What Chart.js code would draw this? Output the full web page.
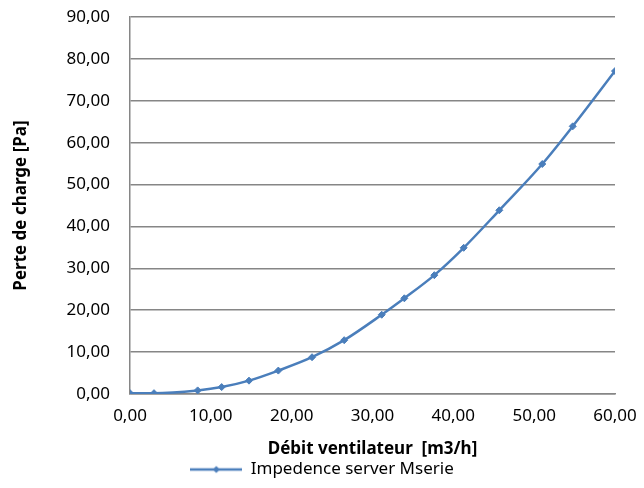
<!DOCTYPE html>
<html>
<head>
<meta charset="utf-8">
<script src="https://cdn.jsdelivr.net/npm/chart.js@4/dist/chart.umd.min.js"></script>
<style>
  html, body { margin: 0; padding: 0; background: #fff; }
  #wrap { width: 644px; height: 488px; }
</style>
</head>
<body>
<div id="wrap"><canvas id="chart"></canvas></div>
<script>
// debit ventilateur [m3/h] and perte de charge [Pa]
const debit = [0, 2.97, 8.37, 11.34, 14.72, 18.35, 22.52, 26.5, 31.14, 33.94, 37.65, 41.28, 45.69, 51.0, 54.77, 60.0];
const perte = [0.2, 0.2, 0.86, 1.65, 3.19, 5.59, 8.78, 12.85, 18.92, 22.85, 28.37, 34.9, 43.86, 54.9, 63.9, 77.1];
const seriesName = 'Impedence server Mserie';
const xTitle = 'Débit ventilateur  [m3/h]';
const yTitle = 'Perte de charge [Pa]';

const blue = '#4a7ebb';
const grey = '#868686';
const fontFamily = "'Noto Sans', 'Open Sans', sans-serif";

// legend marker: line with a diamond in the middle
function legendMarker() {
    const c = document.createElement('canvas');
    c.width = 52;
    c.height = 10;
    const ctx = c.getContext('2d');
    ctx.strokeStyle = blue;
    ctx.lineWidth = 2.5;
    ctx.beginPath();
    ctx.moveTo(0, 5);
    ctx.lineTo(52, 5);
    ctx.stroke();
    ctx.fillStyle = blue;
    ctx.beginPath();
    ctx.moveTo(26, 1.5);
    ctx.lineTo(29.5, 5);
    ctx.lineTo(26, 8.5);
    ctx.lineTo(22.5, 5);
    ctx.closePath();
    ctx.fill();
    return c;
}

const fmt = v => Number(v).toFixed(2).replace('.', ',');

new Chart(document.getElementById('chart'), {
    type: 'line',
    data: {
        datasets: [{
            label: seriesName,
            data: debit.map((x, i) => ({ x: x, y: perte[i] })),
            borderColor: blue,
            backgroundColor: blue,
            borderWidth: 2.5,
            pointStyle: 'rectRot',
            pointRadius: 3.5,
            pointBorderWidth: 1,
            cubicInterpolationMode: 'monotone',
            fill: false
        }]
    },
    options: {
        responsive: true,
        maintainAspectRatio: false,
        animation: false,
        layout: { padding: 0 },
        plugins: {
            tooltip: { enabled: false },
            legend: {
                position: 'bottom',
                labels: {
                    usePointStyle: true,
                    pointStyleWidth: 52,
                    padding: 2,
                    color: '#000',
                    font: { family: fontFamily, size: 17 },
                    generateLabels: chart => [{
                        text: seriesName,
                        pointStyle: legendMarker(),
                        fillStyle: blue,
                        strokeStyle: blue,
                        lineWidth: 0,
                        datasetIndex: 0
                    }]
                }
            }
        },
        scales: {
            x: {
                type: 'linear',
                min: 0,
                max: 60,
                ticks: {
                    stepSize: 10,
                    padding: 12,
                    color: '#000',
                    font: { family: fontFamily, size: 17 },
                    callback: v => fmt(v)
                },
                grid: { display: false, drawTicks: false },
                border: { display: true, color: grey, width: 1.5 },
                title: {
                    display: true,
                    text: xTitle,
                    color: '#000',
                    font: { family: fontFamily, size: 17, weight: 'bold' },
                    padding: { top: 4, bottom: 0 }
                },
                afterFit: scale => {
                    scale.height = 65;
                    scale.paddingLeft = 0;
                    scale.paddingRight = 29;
                }
            },
            y: {
                min: 0,
                max: 90,
                ticks: {
                    stepSize: 10,
                    padding: 20,
                    color: '#000',
                    font: { family: fontFamily, size: 17 },
                    callback: v => fmt(v)
                },
                grid: { color: grey, lineWidth: 1.5, drawTicks: false },
                border: { display: true, color: grey, width: 1.5 },
                title: {
                    display: true,
                    text: yTitle,
                    color: '#000',
                    font: { family: fontFamily, size: 17, weight: 'bold' },
                    padding: { top: 11, bottom: 0 }
                },
                afterFit: scale => {
                    scale.width = 130;
                    scale.paddingTop = 17;
                }
            }
        }
    }
});
</script>
</body>
</html>
